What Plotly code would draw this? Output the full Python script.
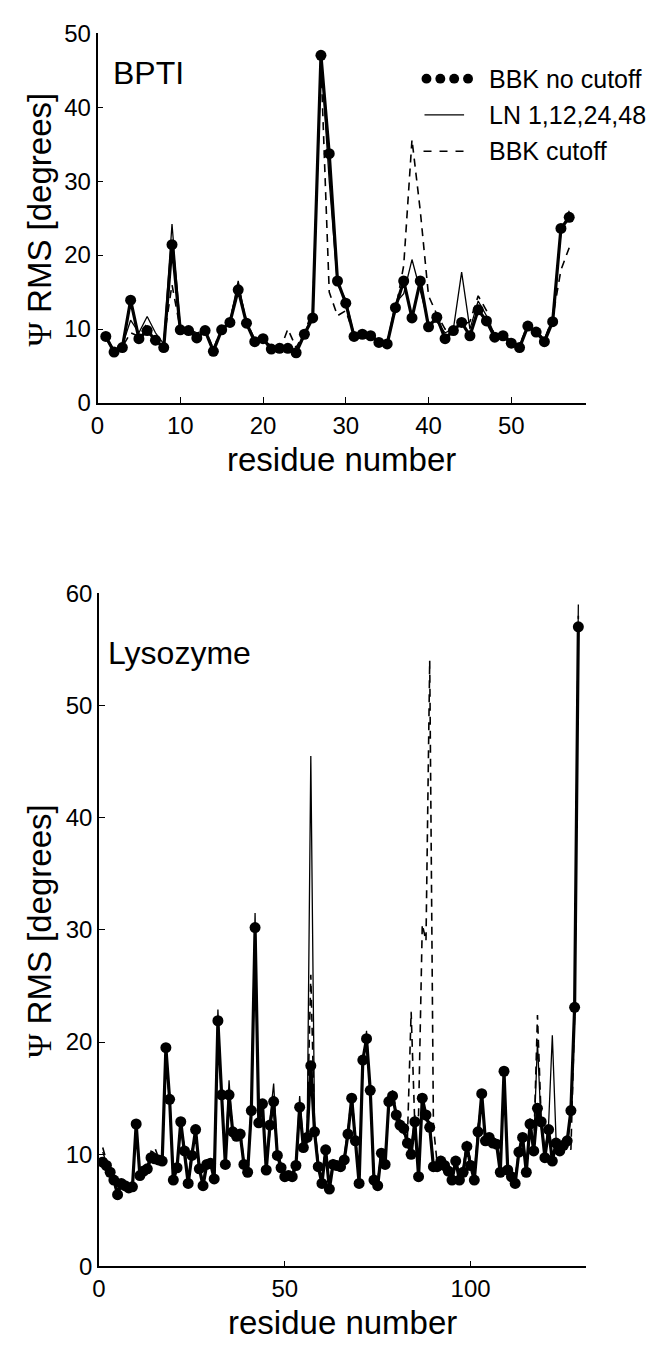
import plotly.graph_objects as go

W, H = 657, 1353

# ---------------- BPTI (residues 1-57) ----------------
bpti_res = list(range(1, 58))
bpti_bbk_nocut = [9.0, 6.9, 7.5, 13.9, 8.7, 9.8, 8.5, 7.5, 21.4, 9.9,
                  9.8, 8.8, 9.8, 7.0, 9.9, 10.9, 15.3, 10.8, 8.3, 8.7,
                  7.3, 7.4, 7.4, 6.8, 9.3, 11.5, 47.0, 33.7, 16.5, 13.5,
                  9.0, 9.3, 9.1, 8.2, 8.0, 12.9, 16.5, 11.5, 16.5, 10.3,
                  11.6, 8.7, 9.8, 10.9, 9.1, 12.6, 11.1, 8.9, 9.1, 8.1,
                  7.5, 10.4, 9.6, 8.3, 11.0, 23.6, 25.1]
bpti_ln = [9.0, 7.2, 7.8, 11.2, 9.5, 11.7, 9.5, 8.0, 24.2, 10.3,
           10.0, 9.5, 9.8, 7.2, 10.0, 11.0, 16.5, 10.5, 8.5, 8.8,
           7.5, 7.6, 7.4, 7.0, 9.5, 11.8, 47.0, 30.0, 16.0, 14.0,
           9.2, 9.5, 9.3, 8.3, 8.2, 13.5, 14.8, 19.4, 15.2, 10.8,
           11.0, 9.5, 10.0, 17.7, 10.0, 13.8, 11.8, 9.2, 9.3, 8.3,
           7.8, 10.2, 9.8, 8.5, 11.5, 23.0, 26.0]
bpti_bbk_cut = [8.8, 7.0, 7.6, 9.5, 9.0, 10.8, 8.0, 8.5, 16.0, 10.0,
                10.2, 9.2, 10.0, 7.3, 10.2, 11.2, 15.8, 11.0, 8.6, 8.9,
                7.6, 7.0, 10.0, 7.5, 9.5, 12.5, 46.0, 15.0, 11.8, 12.5,
                9.2, 9.4, 9.2, 8.4, 8.2, 12.5, 18.6, 35.6, 26.0, 14.5,
                12.0, 10.0, 10.2, 10.5, 11.0, 14.5, 12.5, 9.0, 9.4, 8.4,
                7.8, 10.6, 9.8, 8.6, 11.5, 18.0, 21.0]

# ---------------- Lysozyme (residues 1-129) ----------------
lyso_res = list(range(1, 130))
lyso_bbk_nocut = [9.3, 9.0, 8.4, 7.7, 6.4, 7.4, 7.2, 7.0, 7.1, 12.7,
                  8.1, 8.5, 8.7, 9.7, 9.6, 9.5, 9.4, 19.5, 14.9, 7.7,
                  8.8, 12.9, 10.3, 7.4, 9.9, 12.2, 8.7, 7.2, 9.1, 9.2,
                  7.8, 21.9, 15.3, 9.1, 15.3, 12.0, 11.6, 11.8, 9.1, 8.4,
                  13.9, 30.2, 12.8, 14.5, 8.6, 12.6, 14.7, 9.9, 8.8, 8.0,
                  8.1, 8.0, 9.0, 14.2, 10.6, 11.5, 17.9, 12.0, 8.9, 7.4,
                  10.4, 6.9, 9.1, 9.0, 8.9, 9.5, 11.8, 15.0, 11.2, 7.4,
                  18.4, 20.3, 15.7, 7.7, 7.2, 10.1, 9.1, 14.7, 15.2, 13.5,
                  12.6, 12.3, 11.0, 10.0, 12.9, 8.0, 15.0, 13.5, 12.4, 8.9,
                  8.9, 9.4, 9.0, 8.5, 7.7, 9.4, 7.7, 8.4, 10.7, 9.0,
                  7.7, 12.0, 15.4, 11.2, 11.5, 11.0, 10.9, 8.4, 17.4, 8.6,
                  8.0, 7.4, 10.2, 11.5, 8.4, 12.7, 10.3, 14.1, 12.9, 9.7,
                  12.2, 9.4, 11.0, 10.3, 10.8, 11.2, 13.9, 23.1, 57.0]
lyso_ln = [10.2, 9.2, 8.6, 7.9, 6.8, 7.6, 7.5, 7.3, 7.4, 12.2,
           8.4, 8.8, 9.0, 10.3, 10.1, 9.8, 9.6, 18.8, 15.4, 8.0,
           9.1, 12.4, 10.8, 7.8, 10.3, 11.7, 9.0, 7.6, 9.4, 9.6,
           8.2, 22.9, 14.8, 9.5, 16.6, 11.6, 12.2, 11.3, 9.5, 8.8,
           14.6, 31.5, 12.4, 13.9, 9.0, 13.1, 16.3, 10.3, 9.2, 8.4,
           8.4, 8.3, 9.4, 15.2, 11.0, 11.0, 45.5, 13.0, 9.3, 7.8,
           10.0, 7.3, 9.5, 9.3, 9.3, 9.9, 12.3, 14.4, 11.7, 7.8,
           17.8, 21.0, 15.2, 8.1, 7.6, 10.5, 9.5, 14.1, 15.7, 13.0,
           13.1, 11.8, 11.5, 10.5, 13.5, 8.4, 14.5, 13.0, 12.9, 9.3,
           9.3, 9.8, 9.4, 8.9, 8.1, 9.8, 8.1, 8.8, 11.2, 9.4,
           8.1, 12.5, 14.8, 11.7, 11.0, 11.5, 11.3, 8.8, 16.8, 9.0,
           8.4, 7.8, 10.6, 11.0, 8.8, 13.2, 10.8, 20.0, 12.4, 10.1,
           12.7, 20.6, 11.4, 10.7, 11.3, 10.8, 13.4, 23.8, 59.0]
lyso_bbk_cut = [10.6, 9.4, 8.2, 7.5, 6.6, 7.2, 7.4, 7.2, 7.3, 12.0,
                8.3, 8.3, 9.0, 10.0, 10.6, 9.7, 9.2, 19.0, 14.5, 8.1,
                8.6, 12.5, 10.0, 7.7, 10.2, 12.0, 8.9, 7.5, 9.3, 9.0,
                8.1, 21.5, 15.0, 9.4, 15.0, 12.4, 11.3, 12.2, 9.3, 8.7,
                13.5, 29.8, 13.2, 14.2, 8.9, 12.3, 15.2, 10.2, 9.1, 8.3,
                8.3, 8.2, 9.3, 13.8, 10.9, 11.8, 26.0, 12.4, 9.2, 7.7,
                10.7, 7.2, 9.3, 9.3, 9.1, 9.7, 12.1, 15.4, 11.5, 7.7,
                18.0, 19.8, 15.9, 8.0, 7.5, 10.4, 9.4, 14.3, 15.6, 13.8,
                12.3, 12.8, 11.4, 22.7, 12.5, 13.5, 30.5, 29.0, 54.0, 12.5,
                9.2, 9.7, 9.3, 8.8, 8.0, 9.7, 8.0, 8.7, 11.0, 9.3,
                8.0, 12.3, 15.0, 11.5, 11.8, 11.3, 11.2, 8.7, 17.0, 8.9,
                8.3, 7.7, 10.5, 11.8, 8.7, 13.0, 10.6, 22.4, 13.2, 10.0,
                12.5, 9.8, 11.3, 10.6, 11.1, 11.5, 10.4, 22.5, 58.0]

series_labels = ["BBK no cutoff", "LN 1,12,24,48", "BBK cutoff"]

FONT = "Liberation Sans, Arial, Helvetica, sans-serif"
TICK_SIZE = 24
TITLE_SIZE = 33


def px_x(x):
    return x / W


def px_y(y):
    return 1 - y / H


fig = go.Figure()


def add_panel(res, nocut, ln, cut, xa, ya):
    fig.add_trace(go.Scatter(x=res, y=ln, mode="lines", xaxis=xa, yaxis=ya,
                             line=dict(color="black", width=1.3),
                             showlegend=False))
    fig.add_trace(go.Scatter(x=res, y=cut, mode="lines", xaxis=xa, yaxis=ya,
                             line=dict(color="black", width=1.6, dash="8px,6px"),
                             showlegend=False))
    fig.add_trace(go.Scatter(x=res, y=nocut, mode="lines+markers", xaxis=xa, yaxis=ya,
                             line=dict(color="black", width=3.2),
                             marker=dict(color="black", size=11),
                             showlegend=False))


add_panel(bpti_res, bpti_bbk_nocut, bpti_ln, bpti_bbk_cut, "x", "y")
add_panel(lyso_res, lyso_bbk_nocut, lyso_ln, lyso_bbk_cut, "x2", "y2")

axis_common = dict(showline=True, linecolor="black", linewidth=1.6,
                   ticks="inside", ticklen=6, tickwidth=1.3, tickcolor="black",
                   showgrid=False, zeroline=False, mirror=False,
                   tickfont=dict(family=FONT, size=TICK_SIZE, color="black"))

fig.update_layout(
    width=W, height=H,
    margin=dict(l=0, r=0, t=0, b=0),
    paper_bgcolor="white", plot_bgcolor="white",
    showlegend=False,
    xaxis=dict(domain=[px_x(91.5), px_x(585)], range=[0, 59],
               tickvals=[0, 10, 20, 30, 40, 50], anchor="y", **axis_common),
    yaxis=dict(domain=[px_y(397), px_y(19.5)], range=[0, 50],
               tickvals=[0, 10, 20, 30, 40, 50], anchor="x", **axis_common),
    xaxis2=dict(domain=[px_x(93), px_x(585)], range=[0, 131],
                tickvals=[0, 50, 100], anchor="y2", **axis_common),
    yaxis2=dict(domain=[px_y(1278), px_y(591)], range=[0, 60],
                tickvals=[0, 10, 20, 30, 40, 50, 60], anchor="x2", **axis_common),
)

ytitle = '<span style="font-family:Liberation Serif">Ψ</span> RMS [degrees]'
annos = [
    dict(text="BPTI", x=px_x(105), y=px_y(60), xanchor="left", yanchor="middle",
         font=dict(family=FONT, size=32, color="black")),
    dict(text="Lysozyme", x=px_x(100), y=px_y(652), xanchor="left", yanchor="middle",
         font=dict(family=FONT, size=32, color="black")),
    dict(text="residue number", x=px_x(338), y=px_y(455), xanchor="center", yanchor="middle",
         font=dict(family=FONT, size=TITLE_SIZE, color="black")),
    dict(text="residue number", x=px_x(339), y=px_y(1335), xanchor="center", yanchor="middle",
         font=dict(family=FONT, size=TITLE_SIZE, color="black")),
    dict(text=ytitle, x=px_x(33), y=px_y(210), xanchor="center", yanchor="middle",
         textangle=-90, font=dict(family=FONT, size=TITLE_SIZE, color="black")),
    dict(text=ytitle, x=px_x(33), y=px_y(936), xanchor="center", yanchor="middle",
         textangle=-90, font=dict(family=FONT, size=TITLE_SIZE, color="black")),
]

# legend rows (top panel)
leg_rows = [66, 103, 140]
for label, yy in zip(series_labels, leg_rows):
    annos.append(dict(text=label, x=px_x(485), y=px_y(yy), xanchor="left", yanchor="middle",
                      font=dict(family=FONT, size=25, color="black")))
for a in annos:
    a.update(xref="paper", yref="paper", showarrow=False)
fig.update_layout(annotations=annos)

shapes = []
for cx in [424, 438, 452, 466]:
    shapes.append(dict(type="circle", xref="paper", yref="paper",
                       x0=px_x(cx - 5), x1=px_x(cx + 5), y0=px_y(leg_rows[0] + 5), y1=px_y(leg_rows[0] - 5),
                       fillcolor="black", line=dict(color="black", width=0)))
shapes.append(dict(type="line", xref="paper", yref="paper",
                   x0=px_x(422), x1=px_x(462), y0=px_y(leg_rows[1]), y1=px_y(leg_rows[1]),
                   line=dict(color="black", width=1.3)))
shapes.append(dict(type="line", xref="paper", yref="paper",
                   x0=px_x(421), x1=px_x(463), y0=px_y(leg_rows[2]), y1=px_y(leg_rows[2]),
                   line=dict(color="black", width=1.6, dash="8px,8px")))
fig.update_layout(shapes=shapes)

fig.write_html("out.html")
